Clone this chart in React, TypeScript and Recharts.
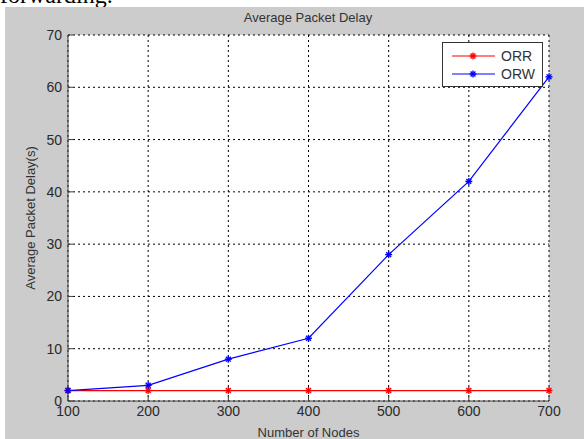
import { LineChart, Line, XAxis, YAxis, CartesianGrid, Legend } from 'recharts';

// Average Packet Delay (s) vs number of nodes
const nodeCounts = [100, 200, 300, 400, 500, 600, 700];
const orrDelay = [2, 2, 2, 2, 2, 2, 2];
const orwDelay = [2, 3, 8, 12, 28, 42, 62];
const xTicks = [100, 200, 300, 400, 500, 600, 700];
const yTicks = [0, 10, 20, 30, 40, 50, 60, 70];

const seriesNames = ['ORR', 'ORW'];
const seriesColors = ['#ff0000', '#0000ff'];

const data = nodeCounts.map((n, i) => ({ nodes: n, ORR: orrDelay[i], ORW: orwDelay[i] }));

const FONT = '"Liberation Sans", Arial, sans-serif';
const tickStyle = { fontFamily: FONT, fontSize: 14, fill: '#2a2a2a' };
const labelStyle = { fontFamily: FONT, fontSize: 13, fill: '#333' };

// MATLAB style '*' marker
const StarDot = (props: any) => {
  const { cx, cy, stroke, key } = props;
  if (cx == null || cy == null) return null;
  const r = 3.5;
  const d = r * 0.7;
  return (
    <g key={key} stroke={stroke} strokeWidth={1.4}>
      <line x1={cx - r} y1={cy} x2={cx + r} y2={cy} />
      <line x1={cx} y1={cy - r} x2={cx} y2={cy + r} />
      <line x1={cx - d} y1={cy - d} x2={cx + d} y2={cy + d} />
      <line x1={cx - d} y1={cy + d} x2={cx + d} y2={cy - d} />
    </g>
  );
};

const LegendBox = () => (
  <div
    style={{
      width: 101,
      height: 45,
      boxSizing: 'border-box',
      border: '1px solid #333',
      background: '#fff',
      padding: '4px 0 0 8px',
      fontFamily: FONT,
      fontSize: 14,
      color: '#333',
    }}
  >
    {seriesNames.map((name, i) => (
      <div key={name} style={{ display: 'flex', alignItems: 'center', height: 18 }}>
        <svg width={46} height={12}>
          <line x1={1} y1={6} x2={44} y2={6} stroke={seriesColors[i]} strokeWidth={1} />
          <StarDot cx={22} cy={6} stroke={seriesColors[i]} />
        </svg>
        <span style={{ marginLeft: 4 }}>{name}</span>
      </div>
    ))}
  </div>
);

export default function App() {
  return (
    <div style={{ position: 'absolute', left: 0, top: 0, width: 584, height: 439, background: '#fff', overflow: 'hidden' }}>
      <div
        style={{
          position: 'absolute',
          left: 0,
          top: -18,
          fontFamily: '"Liberation Serif", "Times New Roman", serif',
          fontSize: 24,
          color: '#000',
        }}
      >
        forwarding.
      </div>
      <div style={{ position: 'absolute', left: 5, top: 7, right: 0, bottom: 0, background: '#cccccc' }} />
      <div
        style={{
          position: 'absolute',
          left: 208,
          width: 200,
          top: 10,
          textAlign: 'center',
          fontFamily: FONT,
          fontSize: 13,
          color: '#333',
        }}
      >
        Average Packet Delay
      </div>
      <div style={{ position: 'absolute', left: 0, top: 0 }}>
        <LineChart width={584} height={439} data={data} margin={{ top: 35, right: 35, bottom: 0, left: 0 }}>
          <CartesianGrid fill="#fff" stroke="#000" strokeDasharray="2 3" strokeWidth={1} />
          <XAxis
            dataKey="nodes"
            type="number"
            domain={[100, 700]}
            ticks={xTicks}
            height={38}
            tick={tickStyle}
            axisLine={{ stroke: '#404040' }}
            tickLine={{ stroke: '#404040' }}
            tickSize={-5}
            tickMargin={10}
            label={{ value: 'Number of Nodes', position: 'insideBottom', offset: 2, style: { ...labelStyle, textAnchor: 'middle' } }}
          />
          <XAxis
            xAxisId="top"
            orientation="top"
            dataKey="nodes"
            type="number"
            domain={[100, 700]}
            ticks={xTicks}
            height={0}
            tickFormatter={() => ''}
            axisLine={{ stroke: '#404040' }}
            tickLine={{ stroke: '#404040' }}
            tickSize={-5}
          />
          <YAxis
            type="number"
            domain={[0, 70]}
            ticks={yTicks}
            width={68}
            tick={tickStyle}
            axisLine={{ stroke: '#404040' }}
            tickLine={{ stroke: '#404040' }}
            tickSize={-5}
            tickMargin={11}
            label={{
              value: 'Average Packet Delay(s)',
              angle: -90,
              position: 'insideLeft',
              offset: 30,
              style: { ...labelStyle, textAnchor: 'middle' },
            }}
          />
          <YAxis
            yAxisId="right"
            orientation="right"
            type="number"
            domain={[0, 70]}
            ticks={yTicks}
            width={0}
            tickFormatter={() => ''}
            axisLine={{ stroke: '#404040' }}
            tickLine={{ stroke: '#404040' }}
            tickSize={-5}
          />
          <Legend
            layout="vertical"
            align="center"
            verticalAlign="middle"
            content={<LegendBox />}
            wrapperStyle={{ left: 442, top: 42, width: 101, height: 45 }}
          />
          <Line
            dataKey="ORR"
            stroke={seriesColors[0]}
            strokeWidth={1.2}
            dot={StarDot}
            activeDot={false}
            isAnimationActive={false}
          />
          <Line
            dataKey="ORW"
            stroke={seriesColors[1]}
            strokeWidth={1.2}
            dot={StarDot}
            activeDot={false}
            isAnimationActive={false}
          />
        </LineChart>
      </div>
    </div>
  );
}
